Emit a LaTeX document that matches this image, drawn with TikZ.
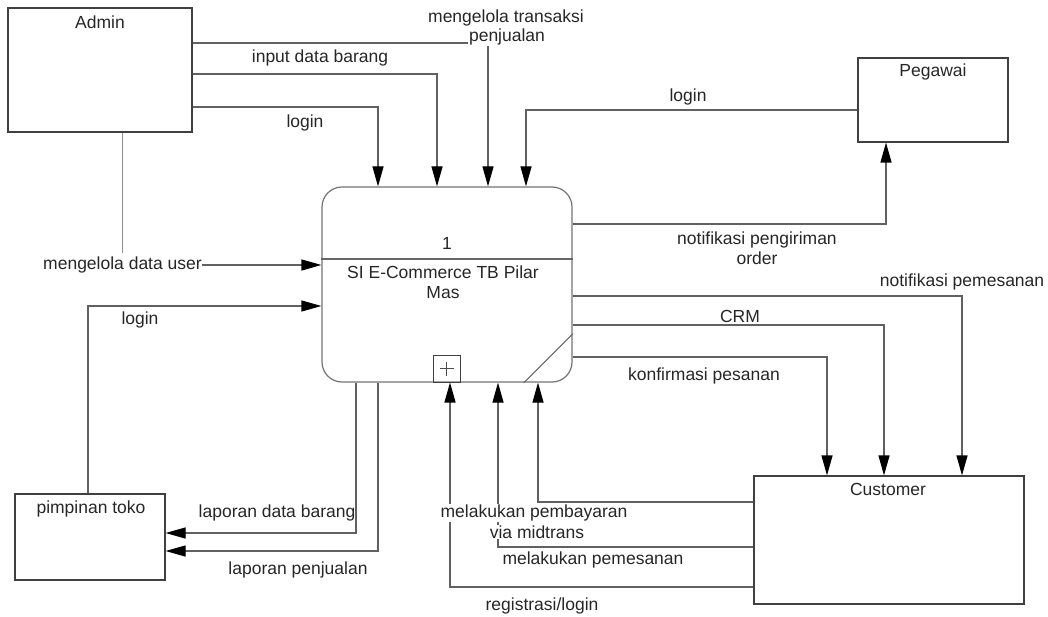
\documentclass[tikz,border=0pt]{standalone}
\usepackage{fontspec}
\setmainfont{Liberation Sans}
\usetikzlibrary{arrows.meta}
\begin{document}
\begin{tikzpicture}[x=1pt,y=-1pt,
  every node/.style={font=\fontsize{17.5}{19.5}\selectfont, text=black!85},
  ent/.style={draw=black!75, line width=1.2pt, rectangle, inner sep=0pt},
  lbl/.style={inner sep=1pt, align=center},
  wlbl/.style={lbl, fill=white},
  flow/.style={draw=black!62, line width=1.2pt, -{Triangle[length=20pt,width=11pt,color=black]}},
  link/.style={draw=black!45, line width=1.2pt},
  procline/.style={draw=black!60, line width=1.2pt},
]
\useasboundingbox (0,0) rectangle (1048,617);

% external entities
\node[ent, minimum width=184pt, minimum height=124pt] (admin) at (100,70) {};
\node[lbl] (adminT) at (100,22) {Admin};
\node[ent, minimum width=150pt, minimum height=84pt] (pegawai) at (933,100) {};
\node[lbl] (pegawaiT) at (933,72) {Pegawai};
\node[ent, minimum width=150pt, minimum height=86pt] (pimpinan) at (90,537) {};
\node[lbl] (pimpinanT) at (91,509) {pimpinan toko};
\node[ent, minimum width=270pt, minimum height=128pt] (customer) at (889,540) {};
\node[lbl] (customerT) at (888,489) {Customer};

% process
\node[draw=black!55, line width=1.2pt, rounded corners=20pt, minimum width=250pt,
      minimum height=195pt, inner sep=0pt] (proc) at (447,284.5) {};
\draw[procline] (proc.west |- 0,259) -- (proc.east |- 0,259);
\node (pnum) at (447,243) {1};
\node[lbl] (pname) at (443,282) {SI E-Commerce TB Pilar\\Mas};
\node[draw=black!75, line width=1pt, minimum size=27pt, inner sep=0pt] (plus) at (446.5,368.5) {};
\draw[black!70, line width=0.8pt] ([xshift=-7pt]plus.center) -- ([xshift=7pt]plus.center)
  ([yshift=-7pt]plus.center) -- ([yshift=7pt]plus.center);
\draw[procline] (proc.south -| 524,0) -- (proc.east |- 0,334);

% flows from Admin
\draw[flow] (admin.east |- 0,43) -| (proc.north -| 488,0);
\node[lbl] (l1a) at (506,18) {mengelola transaksi};
\node[wlbl] (l1b) at (507,37) {penjualan};
\draw[flow] (admin.east |- 0,74) -| (proc.north -| 437,0);
\node[lbl] (l2) at (320,58) {input data barang};
\draw[flow] (admin.east |- 0,107) -| (proc.north -| 378,0);
\node[lbl] (l3) at (305,123) {login};
\node[lbl, inner sep=0pt] (mdu) at (122.5,265) {mengelola data user};
\draw[link] (admin.south -| mdu.north) -- ([yshift=4pt]mdu.north);
\draw[flow] (mdu.east) -- (proc.west |- mdu.east);

% flows with Pegawai
\draw[flow] (pegawai.west |- 0,110) -| (proc.north -| 526,0);
\node[lbl] (l4) at (688,97) {login};
\draw[flow] (proc.east |- 0,224) -| (pegawai.south -| 886,0);
\node[lbl] (l5) at (757,248) {notifikasi pengiriman\\order};

% flows to Customer
\draw[flow] (proc.east |- 0,296) -| (customer.north -| 962,0);
\node[lbl] (l6) at (962,282) {notifikasi pemesanan};
\draw[flow] (proc.east |- 0,325) -| (customer.north -| 884,0);
\node[lbl] (l7) at (740,316) {CRM};
\draw[flow] (proc.east |- 0,357) -| (customer.north -| 827,0);
\node[lbl] (l8) at (704,376) {konfirmasi pesanan};

% flows from Customer
\draw[flow] (customer.west |- 0,502) -| (proc.south -| 538,0);
\draw[flow] (customer.west |- 0,547) -| (proc.south -| 498,0);
\draw[flow] (customer.west |- 0,587) -| (plus.south -| 450,0);
\node[wlbl] (l9a) at (534,513) {melakukan pembayaran};
\node[wlbl] (l9b) at (537,532) {via midtrans};
\node[lbl] (l10) at (593,560) {melakukan pemesanan};
\node[lbl] (l11) at (542,606) {registrasi/login};

% flows with pimpinan toko
\draw[flow] (proc.south -| 356,0) |- (pimpinan.east |- 0,533);
\node[lbl] (l12) at (277,513) {laporan data barang};
\draw[flow] (proc.south -| 378,0) |- (pimpinan.east |- 0,551);
\node[lbl] (l13) at (298,570) {laporan penjualan};
\draw[flow] (pimpinan.north -| 88,0) |- (proc.west |- 0,306);
\node[lbl] (l14) at (140,320) {login};
\end{tikzpicture}
\end{document}
